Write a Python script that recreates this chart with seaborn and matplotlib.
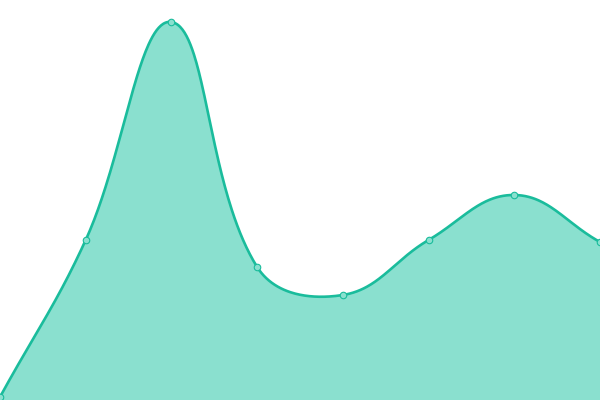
import numpy as np
import pandas as pd
import matplotlib
matplotlib.use('Agg')
import matplotlib.pyplot as plt
import seaborn as sns


# =========================================================
# DATA
# =========================================================

x_values = [0, 1, 2, 3, 4, 5, 6, 7]
y_values = [3, 160, 378, 133, 105, 160, 205, 158]

LINE_COLOR = '#1abc9c'
FILL_COLOR = '#8ae0cf'

TENSION = 0.4
X_PX = 600 / 7   # pixels per x unit, used for distances along the curve


# =========================================================
# SMOOTH CURVE (bezier with tension, control points from neighbours)
# =========================================================

def smooth_curve(x, y, tension=TENSION, steps=80):
    px = np.asarray(x, dtype=float) * X_PX
    py = np.asarray(y, dtype=float)
    n = len(px)

    cp_prev = []
    cp_next = []
    for i in range(n):
        p0 = (px[max(i - 1, 0)], py[max(i - 1, 0)])
        p1 = (px[i], py[i])
        p2 = (px[min(i + 1, n - 1)], py[min(i + 1, n - 1)])
        d01 = np.hypot(p1[0] - p0[0], p1[1] - p0[1])
        d12 = np.hypot(p2[0] - p1[0], p2[1] - p1[1])
        s01 = d01 / (d01 + d12) if d01 + d12 else 0
        s12 = d12 / (d01 + d12) if d01 + d12 else 0
        fa = tension * s01
        fb = tension * s12
        cp_prev.append((p1[0] - fa * (p2[0] - p0[0]),
                        p1[1] - fa * (p2[1] - p0[1])))
        cp_next.append((p1[0] + fb * (p2[0] - p0[0]),
                        p1[1] + fb * (p2[1] - p0[1])))

    t = np.linspace(0, 1, steps)
    xs, ys = [], []
    for i in range(n - 1):
        a = np.array([px[i], py[i]])
        b = np.array(cp_next[i])
        c = np.array(cp_prev[i + 1])
        d = np.array([px[i + 1], py[i + 1]])
        seg = ((1 - t) ** 3)[:, None] * a + (3 * (1 - t) ** 2 * t)[:, None] * b \
            + (3 * (1 - t) * t ** 2)[:, None] * c + (t ** 3)[:, None] * d
        xs.extend(seg[:, 0] / X_PX)
        ys.extend(seg[:, 1])
    return np.array(xs), np.array(ys)


# =========================================================
# PLOT
# =========================================================

def main():
    sns.set_style('white')

    points = pd.DataFrame({'x': x_values, 'y': y_values})
    xs, ys = smooth_curve(x_values, y_values)
    curve = pd.DataFrame({'x': xs, 'y': ys})

    fig = plt.figure(figsize=(6, 4), dpi=100)
    ax = fig.add_axes([0, 0, 1, 1])

    ax.fill_between(curve['x'], curve['y'], 0, color=FILL_COLOR, lw=0)

    sns.lineplot(data=curve, x='x', y='y', ax=ax,
                 color=LINE_COLOR, linewidth=1.9, sort=False)

    sns.scatterplot(data=points, x='x', y='y', ax=ax,
                    s=22, color=FILL_COLOR, edgecolor=LINE_COLOR,
                    linewidth=0.8, zorder=5, clip_on=False)

    ax.set_xlim(0, 7)
    ax.set_ylim(0, 400)
    ax.axis('off')

    fig.savefig('out.png', dpi=100)


if __name__ == '__main__':
    main()
